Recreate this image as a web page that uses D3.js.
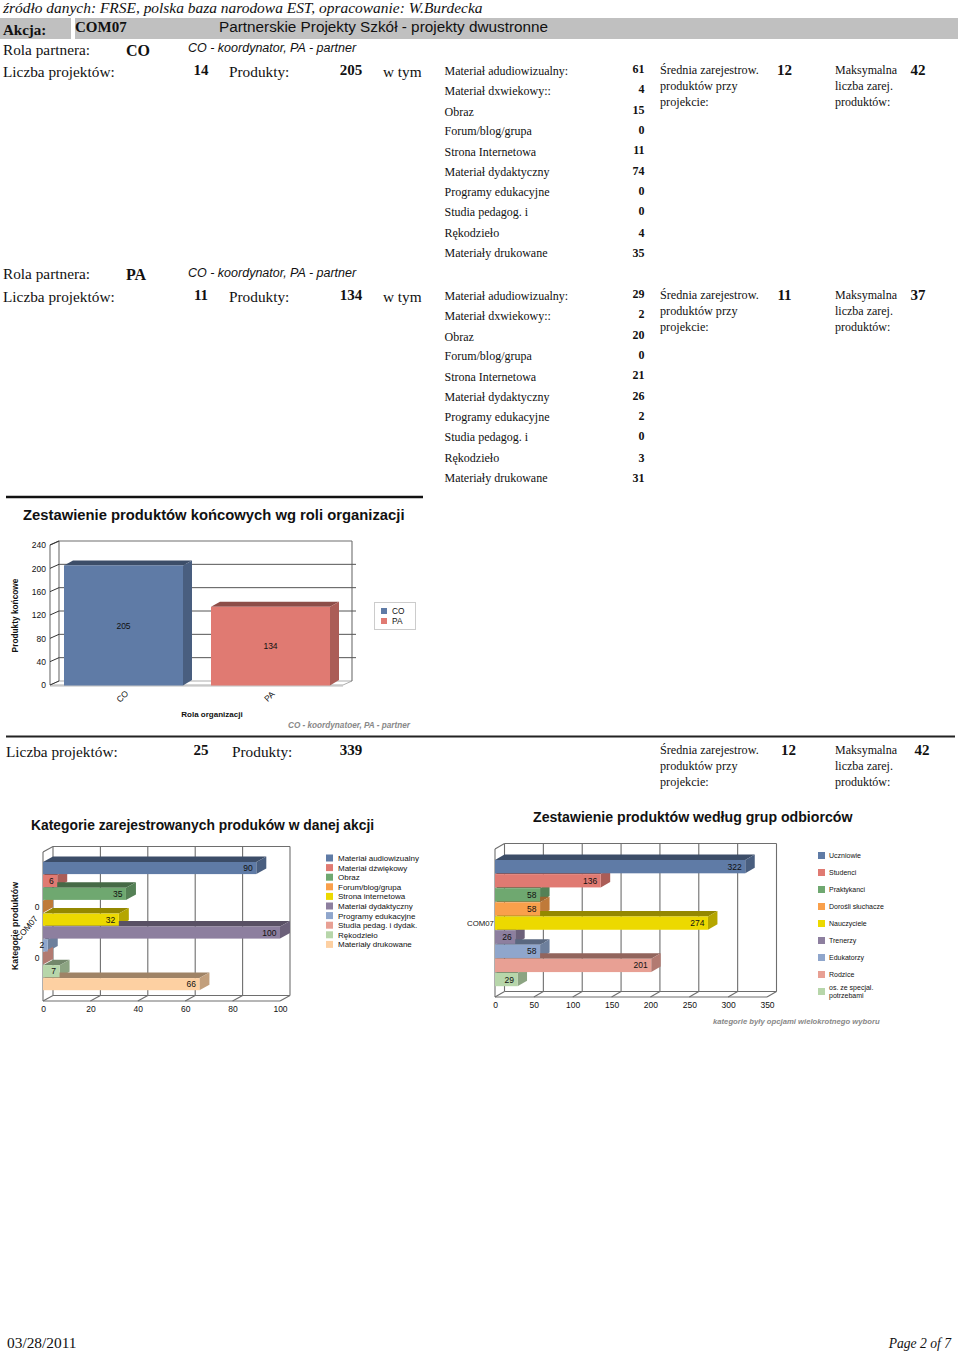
<!DOCTYPE html>
<html><head><meta charset="utf-8">
<style>html,body{margin:0;padding:0;background:#fff}svg{display:block}
.s{font-family:"Liberation Serif",serif;fill:#111}.a{font-family:"Liberation Sans",Arial,sans-serif;fill:#111}
.axis path,.axis line{display:none}.axis text{font-family:"Liberation Sans",Arial,sans-serif;fill:#111}</style>
<script src="https://cdn.jsdelivr.net/npm/d3@7"></script></head><body>
<script>
// ---------- data ----------
const rowLabels = ["Materiał adudiowizualny:","Materiał dxwiekowy::","Obraz","Forum/blog/grupa","Strona Internetowa","Materiał dydaktyczny","Programy edukacyjne","Studia pedagog. i","Rękodzieło","Materiały drukowane"];
const coValues = [61,4,15,0,11,74,0,0,4,35];
const paValues = [29,2,20,0,21,26,2,0,3,31];
const roleCategories = ["CO","PA"];
const roleValues = [205,134];
const roleTicks = [0,40,80,120,160,200,240];
const productCategories = ["Materiał audiowizualny","Materiał dźwiękowy","Obraz","Forum/blog/grupa","Strona internetowa","Materiał dydaktyczny","Programy edukacyjne","Studia pedag. i dydak.","Rękodzieło","Materiały drukowane"];
const productValues = [90,6,35,0,32,100,2,0,7,66];
const productTicks = [0,20,40,60,80,100];
const audienceCategories = ["Uczniowie","Studenci","Praktykanci","Dorośli słuchacze","Nauczyciele","Trenerzy","Edukatorzy","Rodzice","os. ze specjal. potrzebami"];
const audienceValues = [322,136,58,58,274,26,58,201,29];
const audienceTicks = [0,50,100,150,200,250,300,350];
const palette = ["#5f7ba6","#e07a72","#6fa870","#f9a04b","#ecd900","#8d7f9f","#8fa6cc","#e8a094","#b7d6aa","#fdd0a2"];

// ---------- helpers ----------
const svg = d3.select("body").append("svg").attr("width",960).attr("height",1351);
function T(cls,x,y,str,size,o={}){
  const t=svg.append("text").attr("class",cls).attr("x",x).attr("y",y).attr("font-size",size).text(str);
  if(o.b)t.attr("font-weight","bold"); if(o.i)t.attr("font-style","italic");
  if(o.anchor)t.attr("text-anchor",o.anchor); if(o.fill)t.style("fill",o.fill);
  if(o.rot!==undefined)t.attr("transform",`rotate(${o.rot} ${x} ${y})`);
  return t;
}
function poly(g,pts,fill,stroke){g.append("polygon").attr("points",pts.map(p=>p.join(",")).join(" ")).attr("fill",fill).attr("stroke",stroke||"none").attr("stroke-width",stroke?0.6:0);}
const dark=(c,k)=>d3.color(c).darker(k).formatHex();
const gridCol="#6e6e6e";
function line(x1,y1,x2,y2,c=gridCol,w=1.1){svg.append("line").attr("x1",x1).attr("y1",y1).attr("x2",x2).attr("y2",y2).attr("stroke",c).attr("stroke-width",w);}

// ---------- header ----------
T("s",3,13,"źródło danych: FRSE, polska baza narodowa EST, opracowanie: W.Burdecka",15.45,{i:1});
svg.append("rect").attr("x",0).attr("y",18).attr("width",71).attr("height",21).attr("fill","#c0c0c0");
svg.append("rect").attr("x",75).attr("y",18).attr("width",883).attr("height",21).attr("fill","#c0c0c0");
T("s",3,35,"Akcja:",15,{b:1});
T("s",75,32,"COM07",15,{b:1});
T("a",219,32,"Partnerskie Projekty Szkół - projekty dwustronne",15.3);

function section(o){
  T("s",3,o.y0+o.rd,"Rola partnera:",15.3);
  T("s",o.roleX,o.y0+1+o.rd,o.role,16,{b:1});
  T("a",188,o.y0-2,"CO - koordynator, PA - partner",12.5,{i:1});
  T("s",3,o.y0+23,"Liczba projektów:",15.3);
  T("s",201,o.y0+21,o.n,15,{b:1,anchor:"middle"});
  T("s",229,o.y0+23,"Produkty:",15.3);
  T("s",351,o.y0+21,o.prod,15,{b:1,anchor:"middle"});
  T("s",383,o.y0+23,"w tym",15.3);
  rowLabels.forEach((l,i)=>T("s",444.5,o.y0+o.ly[i],l,12));
  o.vals.forEach((v,i)=>T("s",644.5,o.y0+o.vy[i],v,12,{b:1,anchor:"end"}));
  stats(o.y0+20,o.avg,o.max,0,0);
}
function stats(y,avg,max,ax,mx){
  ["Średnia zarejestrow.","produktów przy","projekcie:"].forEach((s,i)=>T("s",660,y+i*16,s,12.2));
  ["Maksymalna","liczba zarej.","produktów:"].forEach((s,i)=>T("s",835,y+i*16,s,12));
  T("s",784.5+ax,y+1,avg,15,{b:1,anchor:"middle"});
  T("s",918+mx,y+1,max,15,{b:1,anchor:"middle"});
}
const ly=[21,41,62,81,102,122,142,162,183,203], vy=[19,39,60,80,100,121,141,161,183,203];
section({y0:54,rd:1,roleX:126,role:"CO",n:14,prod:205,vals:coValues,avg:12,max:42,ly:ly,vy:vy});
section({y0:279,rd:0,roleX:126,role:"PA",n:11,prod:134,vals:paValues,avg:11,max:37,ly:ly,vy:vy});

// ---------- chart 1 ----------
line(6,497,423,497,"#111",2.4);
T("a",23,520,"Zestawienie produktów końcowych wg roli organizacji",14.8,{b:1});
(function(){
  const y=d3.scaleLinear().domain([0,240]).range([685,545]);
  const dx=9,dy=-4;
  // floor + walls
  poly(svg,[[50,685],[59,681],[352,681],[343,685]],"#fff","#777");
  line(59,541,59,681);line(59,541,352,541);line(352,541,352,681);
  line(50,545,50,685);line(50,545,59,541);
  line(50,686,343,686,"#bbb",1);
  roleTicks.forEach(t=>{
    line(50,y(t),59,y(t)+dy,"#333",1);
    if(t>0&&t<240)line(59,y(t)+dy,356,y(t)+dy,"#555",1);
  });
  const ax=svg.append("g").attr("class","axis").attr("transform","translate(50,0)")
    .call(d3.axisLeft(y).tickValues(roleTicks).tickSize(0).tickPadding(4));
  ax.selectAll("text").attr("font-size",8.5);
  roleCategories.forEach((c,i)=>{
    const w=119,v=roleValues[i],t=y(v),col=palette[i];
    const xs=i?211:64;
    poly(svg,[[xs,t],[xs+dx,t-5],[xs+w+dx,t-5],[xs+w,t]],dark(col,1.3));
    poly(svg,[[xs+w,t],[xs+w+dx,t-5],[xs+w+dx,685-5],[xs+w,685.5]],dark(col,0.75));
    svg.append("rect").attr("x",xs).attr("y",t).attr("width",w).attr("height",685.5-t).attr("fill",col);
    T("a",xs+w/2,(t+685)/2+3.5,v,8.5,{anchor:"middle"});
    T("a",xs+w/2+1,698.5,c,8.5,{anchor:"middle",rot:-45});
  });
  T("a",212,717,"Rola organizacji",8,{b:1,anchor:"middle"});
  T("a",18,615.5,"Produkty końcowe",8.3,{b:1,anchor:"middle",rot:-90});
  svg.append("rect").attr("x",374.5).attr("y",602.5).attr("width",41).attr("height",27).attr("fill","#fff").attr("stroke","#ccc");
  roleCategories.forEach((c,i)=>{
    svg.append("rect").attr("x",381).attr("y",608+i*10).attr("width",6).attr("height",6).attr("fill",palette[i]);
    T("a",392,614+i*10,c,8.3);
  });
  T("a",288,728,"CO - koordynatoer, PA - partner",8.2,{b:1,i:1,fill:"#888"});
})();
line(6,736.5,955,736.5,"#222",2);

// ---------- totals ----------
T("s",6,757,"Liczba projektów:",15.3);
T("s",201,755,25,15,{b:1,anchor:"middle"});
T("s",232,757,"Produkty:",15.3);
T("s",351,755,339,15,{b:1,anchor:"middle"});
stats(754,12,42,4,4);

// ---------- horizontal 3D bars ----------
function hbars(o){
  const x=d3.scaleLinear().domain(o.domain).range([o.x0,o.x1]);
  const band=d3.scaleBand().domain(o.cats).range(o.yr);
  const dx=o.dx,dy=o.dy,yT=o.yTop,yB=o.yBot;
  poly(svg,[[o.x0,yB],[o.x0+dx,yB+dy],[o.x1+dx,yB+dy],[o.x1,yB]],"#fff");
  line(o.x0,yT,o.x0,yB);line(o.x0,yT,o.x0+dx,yT+dy);line(o.x0+dx,yT+dy,o.x1+dx,yT+dy);
  line(o.x0,yB,o.x1,yB);
  o.ticks.forEach(t=>{
    line(x(t)+dx,yT+dy,x(t)+dx,yB+dy);
    line(x(t),yB,x(t)+dx,yB+dy);
  });
  line(o.x0+dx,yB+dy,o.x1+dx,yB+dy);
  const ax=svg.append("g").attr("class","axis").attr("transform",`translate(0,${yB})`)
    .call(d3.axisBottom(x).tickValues(o.ticks).tickSize(0).tickPadding(o.pad));
  ax.selectAll("text").attr("font-size",8.5);
  const h=band.bandwidth()-0.8;
  o.cats.forEach((c,i)=>{
    const col=palette[i],y0=band(c),xe=x(o.vals[i]);
    poly(svg,[[o.x0,y0],[o.x0+dx,y0+dy],[xe+dx,y0+dy],[xe,y0]],dark(col,1.3));
    poly(svg,[[xe,y0],[xe+dx,y0+dy],[xe+dx,y0+dy+h],[xe,y0+h]],dark(col,0.75));
  });
  o.cats.forEach((c,i)=>{
    const col=palette[i],y0=band(c),xe=x(o.vals[i]);
    svg.append("rect").attr("x",o.x0).attr("y",y0).attr("width",xe-o.x0).attr("height",h).attr("fill",col);
  });
  o.cats.forEach((c,i)=>{
    const y0=band(c),xe=x(o.vals[i]);
    T("a",xe-3.5,y0+h/2+3,o.vals[i],8.5,{anchor:"end"});
  });
}
T("a",31,830,"Kategorie zarejestrowanych produków w danej akcji",13.85,{b:1});
hbars({cats:productCategories,vals:productValues,domain:[0,100],x0:43,x1:280,yr:[862,991],dx:10,dy:-5.5,yTop:852,yBot:1001,ticks:productTicks,pad:5});
T("a",18,926,"Kategorie produktów",8.8,{b:1,anchor:"middle",rot:-90});
T("a",29,930,"COM07",8.5,{anchor:"middle",rot:-50});
productCategories.forEach((c,i)=>{
  svg.append("rect").attr("x",326).attr("y",854.5+i*9.6).attr("width",7).attr("height",7).attr("fill",palette[i]);
  T("a",338,861+i*9.6,c,8);
});

T("a",533,822,"Zestawienie produktów według grup odbiorców",14.14,{b:1});
hbars({cats:audienceCategories,vals:audienceValues,domain:[0,350],x0:495,x1:767,yr:[860,987],dx:9.5,dy:-5.5,yTop:849,yBot:997,ticks:audienceTicks,pad:5});
T("a",467,926,"COM07",7.8);
audienceCategories.forEach((c,i)=>{
  svg.append("rect").attr("x",818).attr("y",852+i*17).attr("width",7).attr("height",7).attr("fill",palette[i]);
  if(i<8) T("a",829,858+i*17,c,7);
});
T("a",829,990,"os. ze specjal.",7);T("a",829,998,"potrzebami",7);
T("a",713,1024,"kategorie były opcjami wielokrotnego wyboru",7.7,{b:1,i:1,fill:"#888"});

// ---------- footer ----------
T("s",7,1348,"03/28/2011",15.4);
T("s",951,1348,"Page 2 of 7",13.6,{i:1,anchor:"end"});
</script></body></html>
